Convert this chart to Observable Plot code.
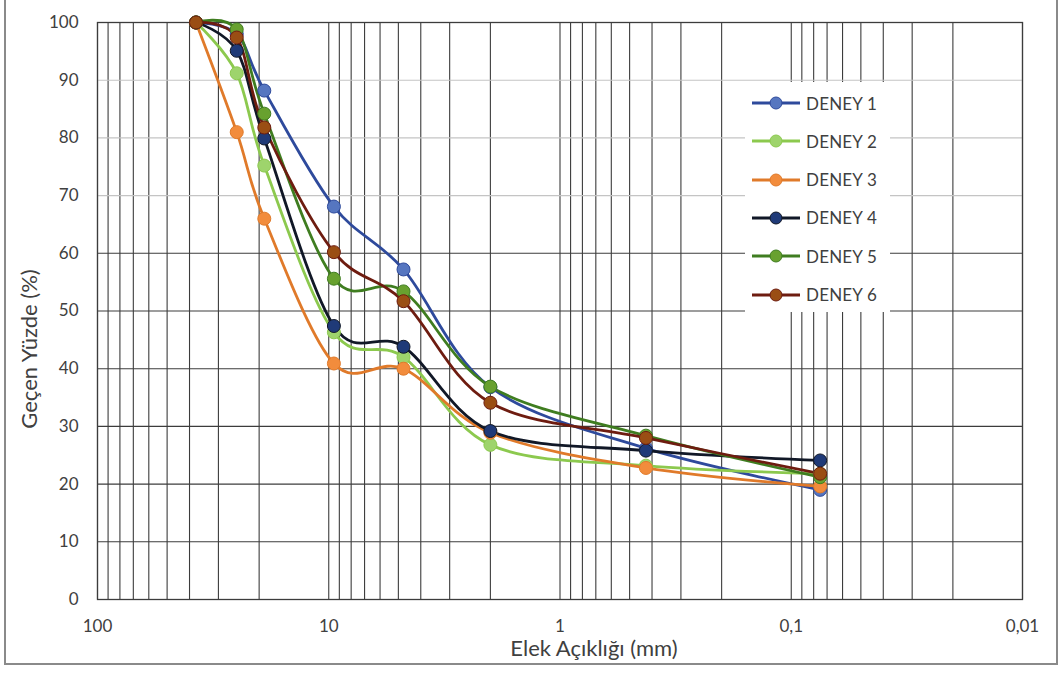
<!DOCTYPE html>
<html><head><meta charset="utf-8">
<script src="https://cdn.jsdelivr.net/npm/d3@7"></script>
<script src="https://cdn.jsdelivr.net/npm/@observablehq/plot@0.6"></script>
<style>
body{margin:0;background:#fff;font-family:Lato,"Open Sans",sans-serif;}
#wrap{position:relative;width:1061px;height:675px;overflow:hidden;}
#border{position:absolute;left:4px;top:-2px;width:1054px;height:667px;border:2px solid #8a8a8a;box-sizing:border-box;}
#legend{position:absolute;left:745px;top:82px;width:145px;height:230px;background:#fff;}
.row{position:absolute;left:0;height:20px;display:flex;align-items:center;}
.row span{position:absolute;left:61px;font-size:17px;color:#404040;white-space:nowrap;letter-spacing:0.2px;}
</style></head><body>
<div id="wrap"><div id="chart"></div><div id="legend"></div><div id="border"></div></div>
<script>
// Sieve openings (mm)
const sieves = [37.5, 25, 19, 9.5, 4.75, 2, 0.425, 0.075];
const names = ["DENEY 1", "DENEY 2", "DENEY 3", "DENEY 4", "DENEY 5", "DENEY 6"];
const deney1 = [100, 98, 88.2, 68.1, 57.2, 36.8, 26.2, 19.0];
const deney2 = [100, 91.2, 75.2, 46.3, 42.0, 26.8, 23.2, 21.8];
const deney3 = [100, 81.0, 66.0, 40.9, 40.0, 28.9, 22.8, 19.6];
const deney4 = [100, 95.1, 79.9, 47.4, 43.8, 29.2, 25.8, 24.1];
const deney5 = [100, 98.8, 84.2, 55.6, 53.4, 36.9, 28.4, 21.2];
const deney6 = [100, 97.4, 81.8, 60.2, 51.7, 34.1, 28.0, 21.8];
const lineColors = ["#2E4A9C", "#8CC94E", "#E07A2A", "#111827", "#3F7D20", "#6E1C10"];
const dotColors  = ["#5676C0", "#9ED46C", "#F28C3C", "#1F3A78", "#68A12F", "#9A4E14"];
const yTicks = [0, 10, 20, 30, 40, 50, 60, 70, 80, 90, 100];
const xTicks = [100, 10, 1, 0.1, 0.01];
const lightGridY = [70, 80, 90];

const allSeries = [deney1, deney2, deney3, deney4, deney5, deney6];
const rows = [];
allSeries.forEach((vals, i) => vals.forEach((v, j) => rows.push({name: names[i], idx: i, x: sieves[j], y: v})));

const minorX = d3.scaleLog().domain([0.01, 100]).ticks();
const gridY = yTicks.filter(d => d > 0 && d < 100);

const chart = Plot.plot({
  width: 1061, height: 675,
  marginLeft: 97, marginRight: 39, marginTop: 22, marginBottom: 76,
  style: {fontFamily: "Lato, 'Open Sans', sans-serif", fontSize: "17px", color: "#404040", background: "transparent", overflow: "visible"},
  x: {type: "log", domain: [100, 0.01], label: null},
  y: {domain: [0, 100], label: null},
  color: {domain: names, range: lineColors},
  marks: [
    Plot.ruleX(minorX, {stroke: "#3c3c3c", strokeWidth: 1.1}),
    Plot.ruleY(gridY, {stroke: d => lightGridY.includes(d) ? "#c4c4c4" : "#3c3c3c", strokeWidth: 1.1}),
    Plot.frame({stroke: "#3c3c3c", strokeWidth: 1.3}),
    Plot.axisX({ticks: xTicks, tickSize: 0, tickPadding: 20, tickFormat: d => String(d).replace(".", ","), label: null, fontSize: 17}),
    Plot.axisY({ticks: yTicks, tickSize: 0, tickPadding: 19, label: null, fontSize: 17}),
    Plot.text(["Elek Açıklığı (mm)"], {frameAnchor: "bottom", dx: 34, dy: 56, fontSize: 22, fill: "#404040"}),
    Plot.text(["Geçen Yüzde (%)"], {frameAnchor: "left", dx: -68, dy: 38, rotate: -90, textAnchor: "middle", fontSize: 22, fill: "#404040"}),
    Plot.line(rows, {x: "x", y: "y", z: "name", stroke: "name", strokeWidth: 2.8, curve: "cardinal"}),
    Plot.dot(rows, {x: "x", y: "y", r: 6.5, fill: d => dotColors[d.idx], stroke: d => lineColors[d.idx], strokeWidth: 1})
  ]
});
document.getElementById("chart").append(chart);

// Legend (inside plot area, white box)
const legend = document.getElementById("legend");
names.forEach((n, i) => {
  const row = document.createElement("div");
  row.className = "row";
  row.style.top = (11 + i * 38.3) + "px";
  row.innerHTML = `<svg width="60" height="20"><line x1="7" x2="55" y1="10" y2="10" stroke="${lineColors[i]}" stroke-width="2.8"/><circle cx="31" cy="10" r="6" fill="${dotColors[i]}" stroke="${lineColors[i]}" stroke-width="1"/></svg><span>${n}</span>`;
  legend.append(row);
});
</script>
</body></html>
